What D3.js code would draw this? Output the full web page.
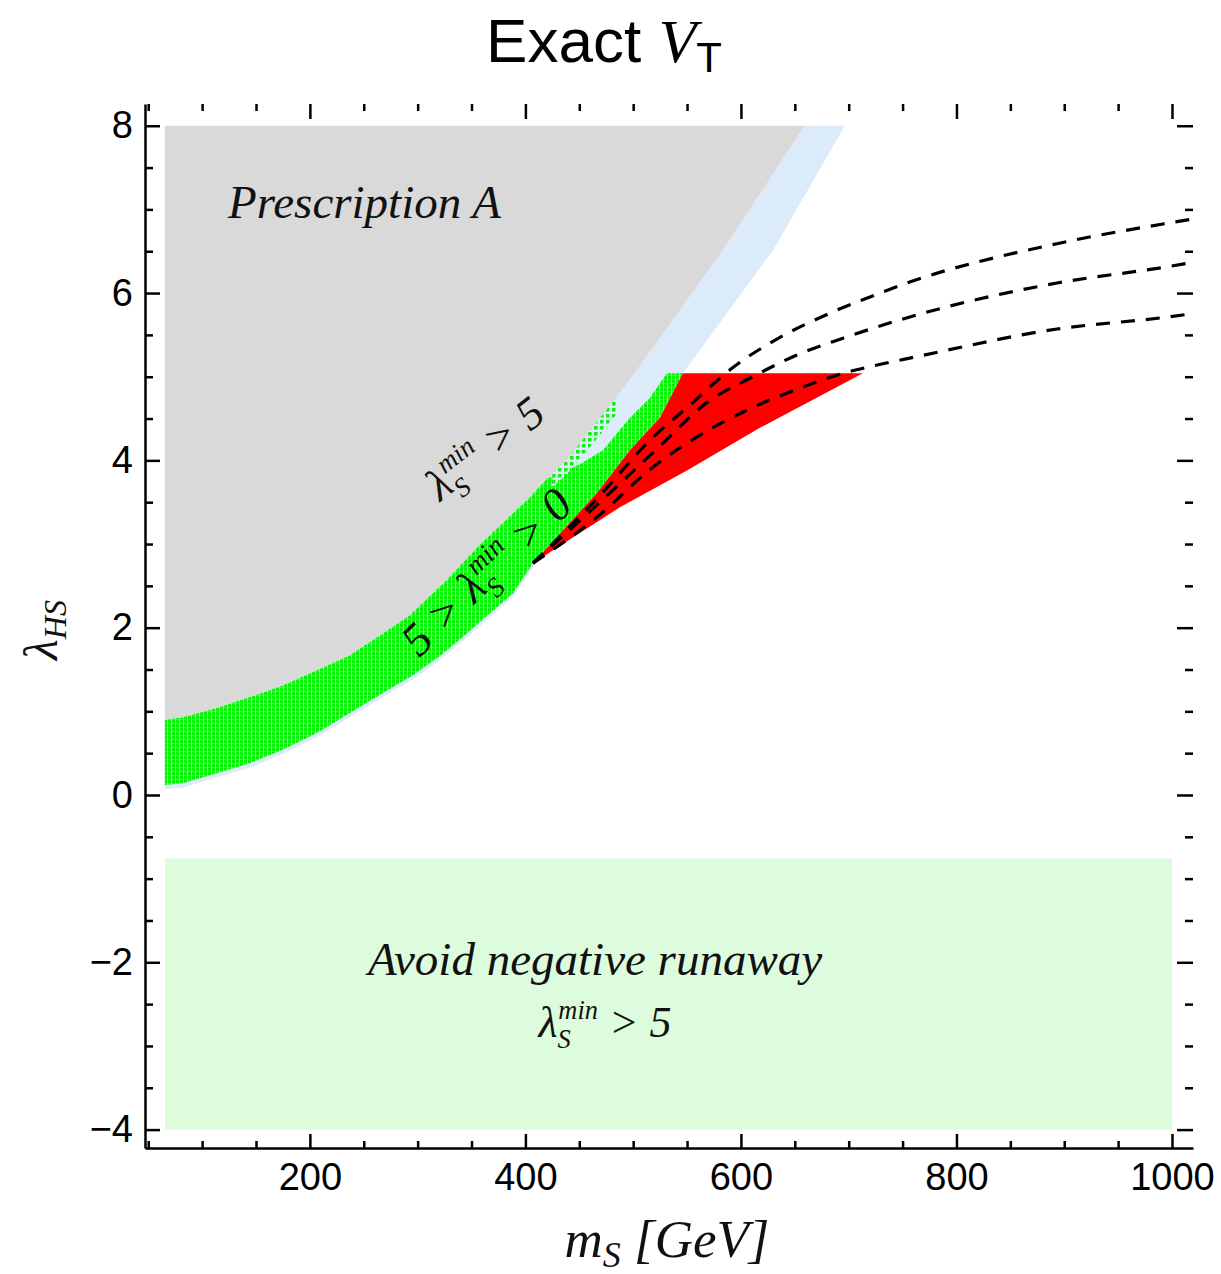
<!DOCTYPE html>
<html><head><meta charset="utf-8">
<script src="https://cdn.jsdelivr.net/npm/d3@7"></script>
<style>body{margin:0;background:#fff}</style>
</head><body>
<svg id="c" width="1221" height="1274"></svg>
<script>
// ---- data: [m_S (GeV), lambda_HS] ----
const grayEdge = [[65.4,0.90],[82.1,0.93],[113.7,1.04],[144.3,1.17],[174.9,1.31],[206.5,1.49],[237.1,1.67],[267.7,1.93],[292.8,2.15],[327.1,2.57],[357.8,2.99],[404.2,3.56],[438.5,4.0],[497,4.96],[583.3,6.51],[659.4,8.0]];
const blueEdge = [[696.5,8.0],[629.7,6.51],[546.2,5.04]];
const redLeft = [[407,2.77],[466.4,3.61],[497,4.12],[524.8,4.51],[546.2,5.04]];
const redLower = [[407,2.77],[487.7,3.44],[549.9,3.88],[617.6,4.39],[713.2,5.04]];
const greenLower = [[65.4,0.12],[82.1,0.14],[113.7,0.26],[144.3,0.38],[174.9,0.54],[206.5,0.74],[237.1,0.98],[267.7,1.22],[295.6,1.43],[320.6,1.66],[342,1.89],[365,2.15],[388.4,2.41],[407,2.77]];
const greenDenseUpper = [[420,3.78],[450,3.95],[471.9,4.12],[497,4.51],[515.5,4.75],[531.3,5.04]];
const sparseTop = [[425,3.84],[438.5,4.0],[460,4.36],[485,4.76]];
const sparseBottom = [[425,3.68],[438.5,3.84],[460,4.16],[485,4.56]];
const runawayBox = {m:[65.4,1000], lam:[-4.0,-0.76]};
const curveA = [[407,2.77],[469.1,3.58],[515.5,4.24],[552.6,4.66],[592.6,5.11],[636.2,5.47],[682.6,5.76],[729,6.0],[754.1,6.12],[893.3,6.59],[993.5,6.83],[1016.7,6.88]];
const curveB = [[407,2.77],[469.1,3.50],[524.8,4.17],[568.4,4.69],[611.1,5.0],[652,5.26],[694.7,5.46],[747.6,5.68],[893.3,6.12],[993.5,6.31],[1016.7,6.36]];
const curveC = [[407,2.77],[469.1,3.35],[515.5,3.89],[559.2,4.28],[605.6,4.60],[652,4.85],[694.7,5.04],[719.7,5.12],[763.3,5.24],[893.3,5.57],[993.5,5.71],[1016.7,5.75]];
const xMajor = [200,400,600,800,1000];
const xMinor = [50,100,150,250,300,350,450,500,550,650,700,750,850,900,950];
const yMajor = [-4,-2,0,2,4,6,8];
const yMinor = [-3.5,-3,-2.5,-1.5,-1,-0.5,0.5,1,1.5,2.5,3,3.5,4.5,5,5.5,6.5,7,7.5];
const yLabels = ["−4","−2","0","2","4","6","8"];

const svg = d3.select("#c");
const x = d3.scaleLinear().domain([47,1019.5]).range([145,1193]);
const y = d3.scaleLinear().domain([-4.22,8.26]).range([1148,104]);
const line = d3.line().x(d=>x(d[0])).y(d=>y(d[1]));
const poly = pts => line(pts) + "Z";

const defs = svg.append("defs");
const gp = defs.append("pattern").attr("id","gpat").attr("patternUnits","userSpaceOnUse").attr("width",4).attr("height",4);
gp.append("rect").attr("width",4).attr("height",4).attr("fill","#08f008");
gp.append("rect").attr("x",3).attr("width",1).attr("height",4).attr("fill","#8cf88c");
gp.append("rect").attr("y",3).attr("width",4).attr("height",1).attr("fill","#6ef46e").attr("opacity",0.6);
const dp = defs.append("pattern").attr("id","dpat").attr("patternUnits","userSpaceOnUse").attr("width",6).attr("height",6);
dp.append("rect").attr("width",6).attr("height",6).attr("fill","#dcebfa");
dp.append("rect").attr("width",3.5).attr("height",3.5).attr("fill","#11ee11");
defs.append("clipPath").attr("id","clip").append("rect").attr("x",145).attr("y",104).attr("width",1048).attr("height",1044);

const g = svg.append("g").attr("clip-path","url(#clip)");

// runaway region
g.append("rect").attr("x",x(runawayBox.m[0])).attr("y",y(runawayBox.lam[1]))
 .attr("width",x(runawayBox.m[1])-x(runawayBox.m[0])).attr("height",y(runawayBox.lam[0])-y(runawayBox.lam[1]))
 .attr("fill","#ddfcdd");

// gray region
g.append("path").attr("d", poly([[grayEdge[0][0],8.0], ...grayEdge])).attr("fill","#d9d9d9");

// light blue band
const lowerShift = greenLower.map(d=>[d[0], d[1]-0.05]).reverse();
g.append("path").attr("d", poly([...grayEdge, ...blueEdge, ...redLeft.slice().reverse(), ...lowerShift])).attr("fill","#dcebfa");

// green band
const topEdgeGray = grayEdge.filter(d=>d[0] < 420).reverse();
g.append("path").attr("d", poly([...greenLower, ...redLeft.slice(1), ...greenDenseUpper.slice().reverse(), ...topEdgeGray])).attr("fill","url(#gpat)");
g.append("path").attr("d", poly([...sparseTop, ...sparseBottom.slice().reverse()])).attr("fill","url(#dpat)");

// red region
g.append("path").attr("d", poly([...redLeft, ...redLower.slice().reverse().slice(0,-1)])).attr("fill","#ff0000");

// dashed curves
const cl = d3.line().x(d=>x(d[0])).y(d=>y(d[1])).curve(d3.curveMonotoneX);
[curveA, curveB, curveC].forEach(c=>{
  g.append("path").attr("d", cl(c)).attr("fill","none").attr("stroke","#000")
   .attr("stroke-width",3.2).attr("stroke-dasharray","14,11");
});

// text labels in plot
const serif = "'Liberation Serif','DejaVu Serif',serif";
svg.append("text").attr("x",228).attr("y",218).attr("font-family",serif).attr("font-style","italic")
  .attr("font-size",47).attr("fill","#111").text("Prescription A");

function lamLabel(sel, pre, post, fs){
  const t = sel.append("text").attr("font-family",serif).attr("font-style","italic").attr("font-size",fs)
    .attr("text-anchor","middle").attr("fill","#111");
  t.append("tspan").text(pre + "λ");
  t.append("tspan").attr("font-size",fs*0.6).attr("dy",fs*0.24).text("S");
  t.append("tspan").attr("font-size",fs*0.6).attr("dx",-fs*0.28).attr("dy",-fs*0.66).text("min");
  t.append("tspan").attr("dy",fs*0.42).text(post);
  return t;
}
lamLabel(svg.append("g").attr("transform","translate(494,460) rotate(-38)"), "", " > 5", 45);
lamLabel(svg.append("g").attr("transform","translate(497,583) rotate(-44)"), "5 > ", " > 0", 46);

svg.append("text").attr("x",595).attr("y",975).attr("text-anchor","middle").attr("font-family",serif)
  .attr("font-style","italic").attr("font-size",47).attr("fill","#111").text("Avoid negative runaway");
lamLabel(svg.append("g").attr("transform","translate(605,1037)"), "", " > 5", 44);

// axes
const sans = "'Liberation Sans',Arial,sans-serif";
function styleAxis(a){ a.selectAll("path,line").attr("stroke","#000").attr("stroke-width",2.5); a.selectAll("text").attr("font-family",sans).attr("font-size",38).attr("fill","#000"); }
const ax = svg.append("g").attr("transform","translate(0,1148)")
  .call(d3.axisBottom(x).tickValues(xMajor).tickSize(-14).tickSizeOuter(0).tickPadding(15).tickFormat(d3.format("d")));
styleAxis(ax);
const axm = svg.append("g").attr("transform","translate(0,1148)").call(d3.axisBottom(x).tickValues(xMinor).tickSize(-7).tickFormat(""));
axm.select(".domain").remove(); styleAxis(axm);
const ay = svg.append("g").attr("transform","translate(145,0)")
  .call(d3.axisLeft(y).tickValues(yMajor).tickSize(-15).tickSizeOuter(0).tickPadding(12).tickFormat((d,i)=>yLabels[i]));
styleAxis(ay);
const aym = svg.append("g").attr("transform","translate(145,0)").call(d3.axisLeft(y).tickValues(yMinor).tickSize(-8).tickFormat(""));
aym.select(".domain").remove(); styleAxis(aym);
const at = svg.append("g").attr("transform","translate(0,104)").call(d3.axisTop(x).tickValues(xMajor).tickSize(-15).tickFormat(""));
at.select(".domain").remove(); styleAxis(at);
const atm = svg.append("g").attr("transform","translate(0,104)").call(d3.axisTop(x).tickValues(xMinor).tickSize(-7).tickFormat(""));
atm.select(".domain").remove(); styleAxis(atm);
const ar = svg.append("g").attr("transform","translate(1193,0)").call(d3.axisRight(y).tickValues(yMajor).tickSize(-16).tickFormat(""));
ar.select(".domain").remove(); styleAxis(ar);
const arm = svg.append("g").attr("transform","translate(1193,0)").call(d3.axisRight(y).tickValues(yMinor).tickSize(-8).tickFormat(""));
arm.select(".domain").remove(); styleAxis(arm);

// axis titles
const xt = svg.append("text").attr("x",667).attr("y",1257).attr("text-anchor","middle").attr("font-family",serif)
  .attr("font-style","italic").attr("font-size",53).attr("fill","#111");
xt.append("tspan").text("m");
xt.append("tspan").attr("font-size",36).attr("dy",10).text("S");
xt.append("tspan").attr("dy",-10).text(" [GeV]");
const yt = svg.append("text").attr("transform","translate(57,630) rotate(-90)").attr("text-anchor","middle")
  .attr("font-family",serif).attr("font-style","italic").attr("font-size",48).attr("fill","#111");
yt.append("tspan").text("λ");
yt.append("tspan").attr("font-size",32).attr("dy",9).text("HS");

// title
const tt = svg.append("text").attr("x",604).attr("y",62).attr("text-anchor","middle").attr("font-family",sans)
  .attr("font-size",62).attr("fill","#000");
tt.append("tspan").text("Exact ");
tt.append("tspan").attr("font-family",serif).attr("font-style","italic").text("V");
tt.append("tspan").attr("font-size",42).attr("dy",10).text("T");
</script>
</body></html>
